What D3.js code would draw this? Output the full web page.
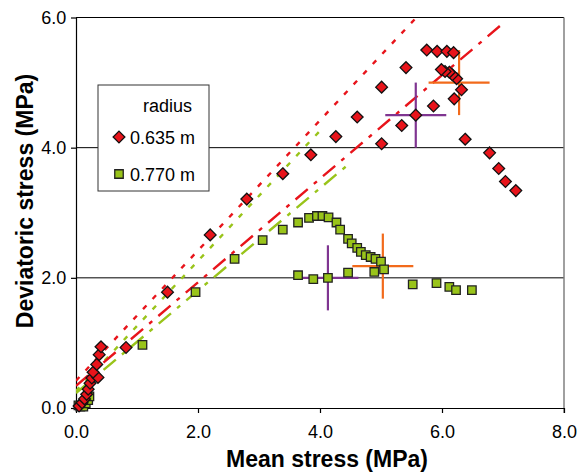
<!DOCTYPE html>
<html>
<head>
<meta charset="utf-8">
<script src="https://cdn.jsdelivr.net/npm/d3@7"></script>
<style>
  body { margin: 0; background: #fff; }
  svg { display: block; font-family: "Liberation Sans", Arial, sans-serif; }
</style>
</head>
<body>
<svg></svg>
<script>
// radius 0.635 m
const redX = [0.05, 0.10, 0.14, 0.175, 0.20, 0.23, 0.26, 0.36, 0.28, 0.34, 0.38, 0.41, 0.82, 1.50, 2.20, 2.80, 3.39, 3.85, 4.26, 4.61,
  5.01, 5.34, 5.57, 5.01, 5.41, 5.86, 6.20, 6.32, 6.24, 6.17, 6.12, 6.05, 5.99, 5.75, 5.92, 6.08, 6.19, 6.38, 6.78, 6.93, 7.04, 7.21]
const redY = [0.03, 0.08, 0.14, 0.21, 0.29, 0.38, 0.46, 0.47, 0.55, 0.67, 0.82, 0.94, 0.93, 1.78, 2.66, 3.21, 3.60, 3.89, 4.17, 4.47,
  4.06, 4.34, 4.50, 4.93, 5.23, 4.64, 4.75, 4.89, 5.06, 5.12, 5.16, 5.17, 5.20, 5.50, 5.48, 5.48, 5.46, 4.13, 3.92, 3.68, 3.48, 3.34]

// radius 0.770 m
const greenX = [0.04, 0.07, 0.12, 0.16, 0.20, 0.22, 1.09, 1.96, 2.60, 3.06, 3.39, 3.64, 3.82, 3.95, 4.04, 4.14, 4.27, 4.33, 4.46,
  4.52, 4.61, 4.67, 4.75, 4.83, 4.91, 5.00, 5.05, 4.89, 4.46, 4.13, 3.89, 3.64, 5.52, 5.91, 6.12, 6.23, 6.49]
const greenY = [0.04, 0.02, 0.02, 0.07, 0.12, 0.18, 0.97, 1.78, 2.29, 2.58, 2.74, 2.85, 2.92, 2.95, 2.95, 2.93, 2.85, 2.74, 2.60,
  2.53, 2.46, 2.40, 2.35, 2.32, 2.29, 2.25, 2.13, 2.09, 2.08, 2.00, 1.98, 2.04, 1.90, 1.92, 1.86, 1.81, 1.81]

// fitted envelopes (end points)
const redSteepX = [0, 5.58], redSteepY = [0.42, 6.0]
const redFlatX = [0, 7.0], redFlatY = [0.34, 5.91]
const greenSteepX = [0, 4.0], greenSteepY = [0.26, 4.26]
const greenFlatX = [0, 4.5], greenFlatY = [0.23, 3.77]

// error crosses: centre and half width
const crossX = [5.57, 6.28, 4.13, 5.03]
const crossY = [4.50, 5.00, 2.00, 2.18]
const crossErr = [0.5, 0.5, 0.5, 0.5]

const xTicks = [0, 2, 4, 6, 8]
const yTicks = [0, 2, 4, 6]
const legendLabels = ["0.635 m", "0.770 m"]

const RED = "#e8141b", GREEN = "#99c41a", PURPLE = "#7f3591", ORANGE = "#f26a1b"

let svg = d3.select("svg").attr("width", 579).attr("height", 472)
svg.append("rect").attr("width", 579).attr("height", 472).attr("fill", "#fff")

let x = d3.scaleLinear().domain([0, 8]).range([76, 564])
let y = d3.scaleLinear().domain([0, 6]).range([408, 17.5])

svg.append("clipPath").attr("id", "plot")
  .append("rect").attr("x", x(0)).attr("y", y(6)).attr("width", x(8) - x(0)).attr("height", y(0) - y(6))

// gridlines + frame
svg.append("g").selectAll("line").data([2, 4, 6]).join("line")
  .attr("x1", x(0)).attr("x2", x(8))
  .attr("y1", d => y(d)).attr("y2", d => y(d))
  .attr("stroke", "#000").attr("stroke-width", 1)
svg.append("line")
  .attr("x1", x(8)).attr("x2", x(8)).attr("y1", y(6)).attr("y2", y(0) + 5)
  .attr("stroke", "#808080").attr("stroke-width", 1.5)

// axes
let gx = svg.append("g")
  .attr("transform", "translate(0," + y(0) + ")")
  .call(d3.axisBottom(x).tickValues(xTicks).tickFormat(d3.format(".1f")).tickSize(5).tickSizeOuter(0))
let gy = svg.append("g")
  .attr("transform", "translate(" + x(0) + ",0)")
  .call(d3.axisLeft(y).tickValues(yTicks).tickFormat(d3.format(".1f")).tickSize(5).tickSizeOuter(0))
for (let g of [gx, gy]) {
  g.selectAll("path, line").attr("stroke", "#000").attr("stroke-width", 1.2)
  g.selectAll("text").attr("font-size", 18).attr("fill", "#000")
    .attr("font-family", "'Liberation Sans', Arial, sans-serif")
}
gx.selectAll("text").attr("dy", "1.2em")
gy.selectAll("text").attr("dx", "-0.1em")

// axis titles
svg.append("text").attr("x", 327).attr("y", 467)
  .attr("text-anchor", "middle").attr("font-size", 23).attr("font-weight", "bold")
  .text("Mean stress (MPa)")
svg.append("text").attr("transform", "translate(33,201) rotate(-90)")
  .attr("text-anchor", "middle").attr("font-size", 23).attr("font-weight", "bold")
  .text("Deviatoric stress (MPa)")

// dashed envelopes
let line = d3.line().x(d => x(d[0])).y(d => y(d[1]))
let fits = [
  [redSteepX, redSteepY, RED, "5,9"],
  [greenSteepX, greenSteepY, GREEN, "5,9"],
  [redFlatX, redFlatY, RED, "16,8,4,8"],
  [greenFlatX, greenFlatY, GREEN, "16,8,4,8"]
]
let gl = svg.append("g").attr("clip-path", "url(#plot)")
for (let [fx, fy, col, dash] of fits) {
  gl.append("path")
    .datum(d3.zip(fx, fy))
    .attr("d", line)
    .attr("fill", "none")
    .attr("stroke", col)
    .attr("stroke-width", 2.4)
    .attr("stroke-dasharray", dash)
}

// error crosses
let crossCol = [PURPLE, ORANGE, PURPLE, ORANGE]
let gc = svg.append("g")
crossX.forEach((cx, i) => {
  let e = crossErr[i]
  gc.append("line")
    .attr("x1", x(cx - e)).attr("x2", x(cx + e)).attr("y1", y(crossY[i])).attr("y2", y(crossY[i]))
    .attr("stroke", crossCol[i]).attr("stroke-width", 2.2)
  gc.append("line")
    .attr("x1", x(cx)).attr("x2", x(cx)).attr("y1", y(crossY[i] - e)).attr("y2", y(crossY[i] + e))
    .attr("stroke", crossCol[i]).attr("stroke-width", 2.2)
})

// markers
let diamond = d3.symbol().type(d3.symbolDiamond2).size(88)
let square = d3.symbol().type(d3.symbolSquare).size(72)

svg.append("g").selectAll("path").data(d3.zip(greenX, greenY)).join("path")
  .attr("d", square)
  .attr("transform", d => "translate(" + x(d[0]) + "," + y(d[1]) + ")")
  .attr("fill", GREEN).attr("stroke", "#222").attr("stroke-width", 1.3)

svg.append("g").selectAll("path").data(d3.zip(redX, redY)).join("path")
  .attr("d", diamond)
  .attr("transform", d => "translate(" + x(d[0]) + "," + y(d[1]) + ")")
  .attr("fill", RED).attr("stroke", "#111").attr("stroke-width", 1.3)

// legend
let lg = svg.append("g")
lg.append("rect").attr("x", 98).attr("y", 85).attr("width", 111).attr("height", 106)
  .attr("fill", "#fff").attr("stroke", "#333").attr("stroke-width", 1)
lg.append("text").attr("x", 143).attr("y", 112).attr("font-size", 18).text("radius")
lg.append("path").attr("d", diamond).attr("transform", "translate(119,137)")
  .attr("fill", RED).attr("stroke", "#111").attr("stroke-width", 1.3)
lg.append("path").attr("d", square).attr("transform", "translate(119,174)")
  .attr("fill", GREEN).attr("stroke", "#222").attr("stroke-width", 1.3)
lg.selectAll("text.lab").data(legendLabels).join("text")
  .attr("class", "lab")
  .attr("x", 130).attr("y", (d, i) => 143.5 + i * 37.5)
  .attr("font-size", 18).text(d => d)
</script>
</body>
</html>
